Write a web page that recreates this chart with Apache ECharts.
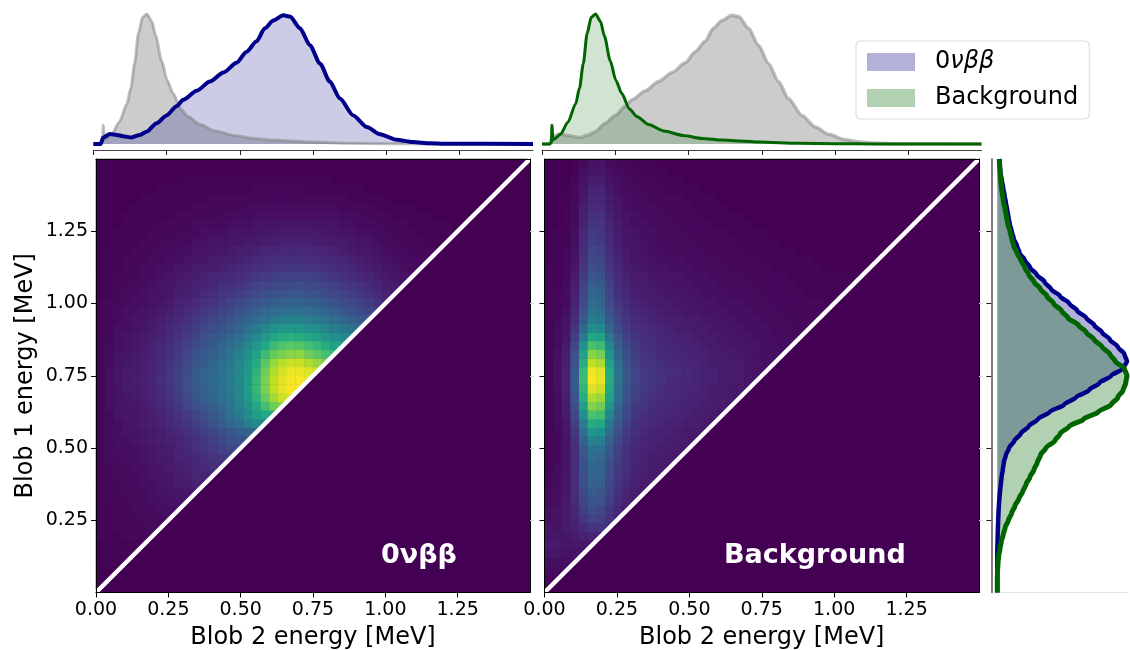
<!DOCTYPE html>
<html><head><meta charset="utf-8"><style>html,body{margin:0;padding:0;background:#fff}#c{width:1130px;height:650px}</style>
<script src="https://cdn.jsdelivr.net/npm/echarts@6/dist/echarts.min.js"></script></head><body><div id="c"></div>
<script>
const axisTicks=[0,0.25,0.5,0.75,1,1.25];
const innerTicks=[0.25,0.5,0.75,1,1.25];
// Blob 2 marginals: energy (MeV) and relative height
const blob2SigE=[0,.025,.034,.057,.08,.102,.13,.159,.182,.216,.25,.284,.307,.353,.398,.444,.489,.523,.557,.585,.614,.648,.671,.705,.739,.773,.807,.841,.887,.933,.978,1.035,1.09,1.15,1.2,1.5];
const blob2SigY=[0,0,5,7.7,7,6,5,7,9.5,16,22,29,34,41,48,55,62.5,71,79,89,95,99,98,89,76,62,48,35,22,13,7.5,3.3,1.5,.5,.2,0];
const blob2BkgE=[0,.026,.032,.034,.037,.043,.063,.089,.115,.128,.141,.154,.168,.183,.2,.213,.233,.252,.272,.298,.325,.364,.416,.482,.547,.613,.678,.743,.874,1.0,1.13,1.5];
const blob2BkgY=[0,0,1,14.5,3,4,7.5,17,31,43,62,85,97.5,100,94,83,64,49,39,27,21,15,10,6.6,4.3,3,2.3,1.5,.5,.2,0,0];
// Blob 1 marginals, one value per energy step of 0.025 MeV
const blob1E=[0,.025,.05,.075,.1,.125,.15,.175,.2,.225,.25,.275,.3,.325,.35,.375,.4,.425,.45,.475,.5,.525,.55,.575,.6,.625,.65,.675,.7,.725,.75,.775,.8,.825,.85,.875,.9,.925,.95,.975,1,1.025,1.05,1.075,1.1,1.125,1.15,1.175,1.2,1.225,1.25,1.275,1.3,1.325,1.35,1.375,1.4,1.425,1.45,1.475,1.5];
const blob1Sig=[0,0,0,0,0,0,0,.2,.3,.5,.7,.9,1.2,1.6,2.1,2.7,3.3,4.2,5,6.5,9,13,18,24,31,40,51,60,70,78,87,96,99,97,92,86,80,74,68,61,55,48,41,36,30,25,21,17,15,12.5,11,9.5,8.5,7.5,6.5,5.5,4.5,3.5,2.5,2,1.5];
const blob1Bkg=[0,0,0,.2,.5,1,2,3,4.5,6,8.5,11,13.5,16.5,19.5,22,25,28,30.5,33,37,44,48,55,66,77,87,92,96,98,99,97,90,86,80,74,68,62,54,49,43,38,33,28,24,21,18,15,12.5,11,9.7,8,7,6,4.8,4,3.2,2.6,2.2,1.8,1.5];
const diagonal=[0,1.5];
// 2D histograms: rows from low to high Blob 1 energy, columns from low Blob 2 energy, bin 0.03 MeV
const heatSig=[
[0],[0,0],[0,0,0],[0,1,1,1],[0,1,1,1,1],[0,1,1,1,1,1],[1,1,1,2,2,2,2],[1,1,2,2,2,2,3,3],
[1,1,2,2,2,3,3,3,4],[1,1,2,2,3,3,3,4,4,4],[1,2,2,2,3,3,4,4,5,5,5],[1,2,2,3,3,3,4,5,5,6,6,7],
[1,2,2,3,3,4,4,5,6,7,8,9,9],[1,2,3,3,3,4,5,5,6,7,8,10,10,11],[1,2,3,3,4,4,5,6,7,8,9,11,12,13,14],
[1,3,3,4,4,5,6,7,7,9,10,11,13,15,16,17],[1,3,4,4,4,5,6,7,8,9,11,13,15,17,19,20,20],
[1,3,4,4,5,6,7,8,9,10,12,14,16,19,21,24,25,25],[1,3,4,5,5,6,7,8,10,11,13,15,18,21,24,27,30,32,33],
[1,3,4,5,6,7,8,9,11,13,15,18,21,25,29,33,36,42,47,48],[1,3,5,6,6,7,8,10,12,14,17,20,24,27,31,36,41,48,55,60,62],
[1,4,5,6,6,7,9,11,13,16,20,24,27,30,34,38,44,51,60,70,78,82],[1,4,5,6,7,8,10,12,14,18,22,26,30,33,36,40,46,53,64,76,86,92,95],
[1,4,5,7,7,8,10,12,15,19,24,28,31,34,37,41,46,55,66,80,90,96,99,99],[1,4,6,7,8,9,10,13,15,19,24,28,32,35,37,41,47,54,66,80,90,96,99,99,97],
[1,4,6,7,7,8,10,12,15,19,23,28,31,34,37,41,46,53,64,78,88,94,97,97,95,92],[1,3,5,6,7,8,10,12,15,18,22,26,29,33,36,40,45,52,61,74,84,89,92,92,88,84,80],
[1,3,5,6,7,8,9,11,14,17,21,25,28,31,34,38,43,49,57,68,76,80,82,83,78,74,70,67],[1,3,4,5,6,7,9,11,13,16,19,23,26,29,32,35,40,45,52,60,68,72,74,73,70,66,62,58,55],
[1,2,4,5,6,7,8,10,12,14,17,20,24,27,29,32,36,41,47,53,59,62,63,62,60,56,52,50,47,45],[1,2,4,4,5,6,7,9,11,13,15,18,21,24,26,29,32,37,41,46,50,52,52,52,50,48,44,42,40,38,35],
[1,2,3,4,5,5,7,8,10,11,13,16,18,21,23,26,29,32,35,38,41,43,44,44,42,40,38,35,33,30,28,25],[1,2,3,4,4,5,6,7,8,10,12,14,16,18,20,22,25,28,30,33,35,36,37,37,36,34,32,30,27,25,23,20,17],
[1,2,2,3,4,4,5,6,7,9,10,12,14,15,17,19,21,24,26,28,30,31,32,32,30,29,27,25,23,21,19,17,14,12],[0,1,2,3,3,4,5,5,6,8,9,10,12,13,15,16,18,20,22,24,25,26,27,27,26,25,23,22,20,18,16,14,12,10,8],
[0,1,2,2,3,3,4,5,6,7,8,9,10,11,13,14,15,17,19,20,21,22,23,23,22,21,20,19,17,15,14,12,10,8,7,6],[0,1,2,2,2,3,3,4,5,6,7,8,9,10,11,12,13,14,16,17,18,19,19,19,19,18,17,16,14,13,11,10,8,7,6,5,4],
[0,1,1,2,2,3,3,4,4,5,6,7,7,8,9,10,11,12,13,14,15,16,16,16,16,15,14,13,12,11,9,8,7,6,5,4,3,3],[0,1,1,2,2,2,3,3,4,4,5,6,6,7,8,8,9,10,11,12,13,13,13,13,13,12,12,11,10,9,8,7,6,5,4,3,3,2,2],
[0,1,1,1,2,2,2,3,3,4,4,5,5,6,6,7,8,8,9,10,10,11,11,11,11,10,10,9,8,7,6,6,5,4,3,3,2,2,2,1],[0,0,1,1,1,2,2,2,3,3,3,4,4,5,5,6,6,7,7,8,8,9,9,9,9,8,8,7,7,6,5,5,4,3,3,2,2,2,1,1,1],
[0,0,1,1,1,1,2,2,2,2,3,3,4,4,4,5,5,5,6,6,7,7,7,7,7,7,6,6,5,5,4,4,3,3,2,2,2,1,1,1,1,1],[0,0,0,1,1,1,1,2,2,2,2,3,3,3,3,4,4,4,5,5,5,6,6,6,6,5,5,5,4,4,3,3,3,2,2,2,1,1,1,1,1],
[0,0,0,1,1,1,1,1,1,2,2,2,2,2,3,3,3,3,4,4,4,4,4,4,4,4,4,4,3,3,3,2,2,2,1,1,1,1,1],[0,0,0,0,1,1,1,1,1,1,1,2,2,2,2,2,2,3,3,3,3,3,3,3,3,3,3,3,2,2,2,2,1,1,1,1,1],
[0,0,0,0,0,1,1,1,1,1,1,1,1,2,2,2,2,2,2,2,2,2,2,2,2,2,2,2,2,1,1,1,1,1],[0,0,0,0,0,0,0,1,1,1,1,1,1,1,1,1,1,1,2,2,2,2,2,2,1,1,1,1,1,1,1],[0,0,0,0,0,0,0,0,0,0,1,1,1,1,1,1,1,1,1,1,1,1,1,1,1,1,1],[],[]
];
const heatBkg=[
[1],[2,2],[3,3,3],[4,4,4,4],[6,6,5,5,5],[7,7,6,6,6,6],[6,6,6,7,9,10,10],[5,5,7,9,12,15,15,13],[4,5,7,10,16,20,19,14,10],[4,5,7,11,18,24,22,16,11,8],
[3,4,7,12,20,26,25,18,12,9,7],[3,4,6,13,22,29,27,20,14,10,8,7],[2,3,6,13,24,31,30,21,15,11,9,7,7],[2,3,6,13,24,32,31,23,16,12,9,8,7,7],[1,3,5,13,25,33,32,24,17,13,10,9,8,7,6],
[1,2,5,13,26,35,34,26,18,13,11,9,8,8,7,6],[1,2,5,13,27,38,37,28,19,14,11,10,9,8,8,7,6],[1,2,5,14,31,44,43,31,21,15,12,10,10,9,8,8,7,6],[1,2,6,16,36,52,50,35,24,17,13,11,10,9,9,8,7,7,6],
[1,3,6,18,42,62,60,40,27,19,14,12,11,10,9,9,8,8,7,6],[1,3,7,21,49,71,69,46,30,21,16,13,12,11,10,10,9,8,8,7,6],[1,3,8,24,55,81,78,52,33,23,17,15,13,12,11,10,9,9,8,8,7,6],
[1,3,8,27,62,88,85,57,36,25,19,16,14,13,12,11,10,9,9,8,8,7,6],[1,4,9,28,65,95,92,60,38,26,20,17,15,13,12,11,10,10,9,8,8,7,7,6],[1,4,9,29,68,99,96,62,39,27,20,17,15,14,12,11,11,10,9,9,8,7,7,6,5],
[1,4,9,29,67,98,95,61,39,27,20,17,15,14,13,12,11,10,9,9,8,8,7,6,5,4],[1,4,8,27,62,90,87,57,36,26,19,16,15,13,12,11,10,10,9,8,8,7,7,6,5,4,4],[1,4,8,25,56,82,79,52,33,24,18,15,14,12,11,11,10,9,9,8,7,7,6,6,5,4,4,3],
[1,3,7,22,49,71,68,46,30,22,17,14,13,11,11,10,9,9,8,7,7,6,6,5,5,4,4,3,3],[1,3,6,18,41,59,57,39,27,19,15,13,12,11,10,9,9,8,7,7,6,6,5,5,4,4,3,3,3,2],[1,3,5,15,34,49,47,33,23,17,13,12,11,10,9,8,8,7,7,6,6,5,5,4,4,4,3,3,3,2,2],
[1,2,5,13,28,42,40,28,20,15,12,11,10,9,8,8,7,7,6,6,5,5,4,4,4,3,3,3,2,2,2,2],[1,2,4,11,25,38,36,25,18,13,11,10,9,8,7,7,6,6,5,5,5,4,4,4,3,3,3,2,2,2,2,2,2],[1,2,3,10,23,35,33,23,16,12,10,9,8,7,7,6,6,5,5,5,4,4,4,3,3,3,2,2,2,2,2,2,1,1],
[1,2,3,9,21,33,31,21,14,11,9,8,7,7,6,6,5,5,4,4,4,3,3,3,3,2,2,2,2,2,1,1,1,1,1],[1,1,3,8,19,30,28,19,13,10,8,7,7,6,5,5,5,4,4,4,3,3,3,3,2,2,2,2,2,1,1,1,1,1,1,1],[1,1,2,7,17,27,25,17,12,9,7,7,6,5,5,5,4,4,4,3,3,3,3,2,2,2,2,2,1,1,1,1,1,1,1,1],
[1,1,2,6,15,24,23,15,11,8,7,6,5,5,4,4,4,3,3,3,3,2,2,2,2,2,1,1,1,1,1,1],[0,1,2,5,14,22,21,14,10,7,6,5,5,4,4,4,3,3,3,3,2,2,2,2,2,1,1,1,1,1,1],[0,1,2,5,13,20,19,13,9,7,6,5,4,4,3,3,3,3,2,2,2,2,2,1,1,1,1,1,1],
[0,1,1,4,12,18,17,12,8,6,5,4,4,3,3,3,3,2,2,2,2,2,1,1,1,1,1],[0,1,1,4,11,17,16,11,8,6,5,4,4,3,3,3,2,2,2,2,2,1,1,1,1,1],[0,0,1,3,10,15,15,10,7,5,4,4,3,3,3,2,2,2,2,1,1,1,1,1],[0,0,1,3,9,14,14,9,6,5,4,3,3,3,2,2,2,2,1,1,1,1,1],
[0,0,1,3,8,12,12,8,6,4,3,3,3,2,2,2,2,1,1,1,1],[0,0,1,2,7,11,11,7,5,4,3,3,2,2,2,2,1,1,1,1],[0,0,1,2,6,10,10,6,4,3,3,2,2,2,1,1,1,1],[0,0,0,2,5,8,8,5,4,3,2,2,2,1,1,1],[0,0,0,1,4,6,6,4,3,2,2,1,1,1],[0,0,0,1,3,5,5,3,2,2,1,1,1]
];
const viridis=['#440154','#482475','#414487','#355f8d','#2a788e','#21918c','#22a884','#44bf70','#7ad151','#bddf26','#fde725'];
const F='"DejaVu Sans"';
const NAVY='#00008b',GREEN='#006400',DARK='#440154';
const nBins=50;
const binLabels=Array.from({length:nBins},(_,i)=>String(i));
function cells(rows){const o=[];rows.forEach((r,j)=>{for(let i=0;i<nBins;i++)o.push([i,j,i<r.length?r[i]:0]);});return o;}
const pairs=(a,b)=>a.map((v,i)=>[v,b[i]]);

const LT={left:93.3,width:439.7,outerBoundsMode:'none'}, LT2={left:542,width:439.5,outerBoundsMode:'none'};
const HM1={left:96,top:159,width:434,height:433.5,outerBoundsMode:'none'}, HM2={left:544.5,top:159,width:434.5,height:433.5,outerBoundsMode:'none'};

const grid=[
 {...LT,top:14,height:130},{...LT2,top:14,height:130},
 {left:997.3,width:131,top:159,height:433.5,outerBoundsMode:'none'},
 {...HM1,show:true,backgroundColor:DARK,borderWidth:0},{...HM1},
 {...HM2,show:true,backgroundColor:DARK,borderWidth:0},{...HM2}
];
const tickStyle={length:5,lineStyle:{color:'#000',width:1}};
const topX=i=>({type:'value',gridIndex:i,min:0,max:1.5,position:'bottom',offset:6,
 axisLine:{show:true,onZero:false,lineStyle:{color:'#444',width:1}},axisTick:{show:true,customValues:axisTicks,length:5,lineStyle:{color:'#222',width:1}},axisLabel:{show:false},splitLine:{show:false}});
const hide=(i,t)=>({type:'value',gridIndex:i,min:0,max:100,show:false});
const catAxis=i=>({type:'category',gridIndex:i,data:binLabels,show:false});
const bottomX=i=>({type:'value',gridIndex:i,min:0,max:1.5,position:'bottom',z:6,name:'Blob 2 energy [MeV]',nameLocation:'middle',nameGap:33,
 nameTextStyle:{fontFamily:F,fontSize:24,color:'#000'},axisLine:{show:true,onZero:false,lineStyle:{color:'#000',width:1}},axisTick:{show:true,...tickStyle,customValues:axisTicks},
 axisLabel:{customValues:axisTicks,fontFamily:F,fontSize:19,color:'#000',margin:8,formatter:v=>v.toFixed(2)},splitLine:{show:false}});
const frameX=i=>({type:'value',gridIndex:i,min:0,max:1.5,position:'top',z:6,axisLine:{show:true,onZero:false,lineStyle:{color:'#000',width:1}},axisTick:{show:false},axisLabel:{show:false},splitLine:{show:false}});
const frameY=i=>({type:'value',gridIndex:i,min:0,max:1.5,position:'right',z:6,axisLine:{show:true,onZero:false,lineStyle:{color:'#000',width:1}},
 axisTick:{show:true,customValues:innerTicks,length:4,lineStyle:{color:'#d8d8d8',width:1}},axisLabel:{show:false},splitLine:{show:false}});
const xAxis=[topX(0),topX(1),
 {type:'value',gridIndex:2,min:0,max:100,axisLine:{show:true,onZero:false,lineStyle:{color:'#dde3e3',width:1}},axisTick:{show:false},axisLabel:{show:false},splitLine:{show:false}},
 catAxis(3),bottomX(4),frameX(4),catAxis(5),bottomX(6),frameX(6)];
const yAxis=[hide(0),hide(1),
 {type:'category',gridIndex:2,data:blob1E.map(String),boundaryGap:false,position:'left',offset:6,axisLine:{show:true,onZero:false,lineStyle:{color:'#555',width:1.5}},
  axisTick:{show:true,alignWithLabel:true,interval:i=>i>0&&i<60&&i%10===0,length:5,lineStyle:{color:'#222',width:1}},axisLabel:{show:false},splitLine:{show:false}},
 catAxis(3),
 {type:'value',gridIndex:4,min:0,max:1.5,position:'left',z:6,name:'Blob 1 energy [MeV]',nameLocation:'middle',nameGap:58,nameTextStyle:{fontFamily:F,fontSize:24,color:'#000'},
  axisLine:{show:true,onZero:false,lineStyle:{color:'#000',width:1}},axisTick:{show:true,...tickStyle,customValues:innerTicks},
  axisLabel:{customValues:innerTicks,fontFamily:F,fontSize:19,color:'#000',margin:8,formatter:v=>v.toFixed(2)},splitLine:{show:false}},
 frameY(4),catAxis(5),
 {type:'value',gridIndex:6,min:0,max:1.5,position:'left',z:6,axisLine:{show:true,onZero:false,lineStyle:{color:'#000',width:1}},axisTick:{show:true,...tickStyle,customValues:innerTicks},axisLabel:{show:false},splitLine:{show:false}},
 frameY(6)];

const curve=(name,xi,yi,data,line,lw,area,mono)=>({name,type:'line',xAxisIndex:xi,yAxisIndex:yi,data,showSymbol:false,symbol:'none',clip:false,z:2,smooth:0.25,smoothMonotone:mono,
 lineStyle:{color:line,width:lw},areaStyle:{color:area,opacity:1},itemStyle:{color:line},emphasis:{disabled:true},silent:true});
const GF='rgba(0,0,0,0.2)',GL='rgba(128,128,128,0.5)';
const sig2=pairs(blob2SigE,blob2SigY),bkg2=pairs(blob2BkgE,blob2BkgY);
const heat=(name,xi,yi,rows)=>({name,type:'heatmap',xAxisIndex:xi,yAxisIndex:yi,data:cells(rows),progressive:0,silent:true,z:2,itemStyle:{borderWidth:0},emphasis:{disabled:true}});
const diag=(name,xi,yi)=>({name,type:'line',xAxisIndex:xi,yAxisIndex:yi,data:pairs(diagonal,diagonal),symbol:'none',silent:true,z:3,clip:false,
 lineStyle:{color:'#fff',width:4.5},areaStyle:{color:DARK,opacity:1},emphasis:{disabled:true}});
const series=[
 curve('bkg ref top',0,0,bkg2,GL,3,GF,'x'),
 curve('sig top',0,0,sig2,NAVY,4,'rgba(0,0,128,0.2)','x'),
 curve('sig ref top',1,1,sig2,GL,3.5,GF,'x'),
 curve('bkg top',1,1,bkg2,GREEN,3,'rgba(0,100,0,0.18)','x'),
 curve('0νββ',2,2,pairs(blob1Sig,blob1E.map(String)),NAVY,4.5,'rgba(0,0,128,0.3)','y'),
 curve('Background',2,2,pairs(blob1Bkg,blob1E.map(String)),GREEN,5,'rgba(0,100,0,0.3)','y'),
 heat('sig map',3,3,heatSig),diag('sig diagonal',4,4),
 heat('bkg map',6,6,heatBkg),diag('bkg diagonal',7,7)
];
const text=(t,x,y)=>({type:'text',left:x,top:y,z:20,style:{text:t,fill:'#fff',font:'bold 27px '+F}});
const option={animation:false,backgroundColor:'#fff',textStyle:{fontFamily:F},grid,xAxis,yAxis,series,
 visualMap:{show:false,type:'continuous',min:0,max:100,seriesIndex:[6,8],inRange:{color:viridis}},
 legend:{left:856,top:41,orient:'vertical',selectedMode:false,padding:[9,11,9,11],itemWidth:48,itemHeight:18,itemGap:12,backgroundColor:'#fff',borderColor:'#d9d9d9',borderWidth:1,borderRadius:4,
  data:[{name:'0νββ',icon:'rect',itemStyle:{color:'#b2b2d9',borderWidth:0}},{name:'Background',icon:'rect',itemStyle:{color:'#b2d1b2',borderWidth:0}}],
  formatter:n=>n==='0νββ'?'{a|0}{b|νββ}':n,
  textStyle:{fontFamily:F,fontSize:24,color:'#000',padding:[0,0,0,15],rich:{a:{fontFamily:F,fontSize:24,color:'#000'},b:{fontFamily:F,fontSize:24,fontStyle:'italic',color:'#000'}}}},
 graphic:[text('0νββ',381,542),text('Background',724,542)]
};
echarts.init(document.getElementById('c'),null,{renderer:'canvas'}).setOption(option);
</script></body></html>
